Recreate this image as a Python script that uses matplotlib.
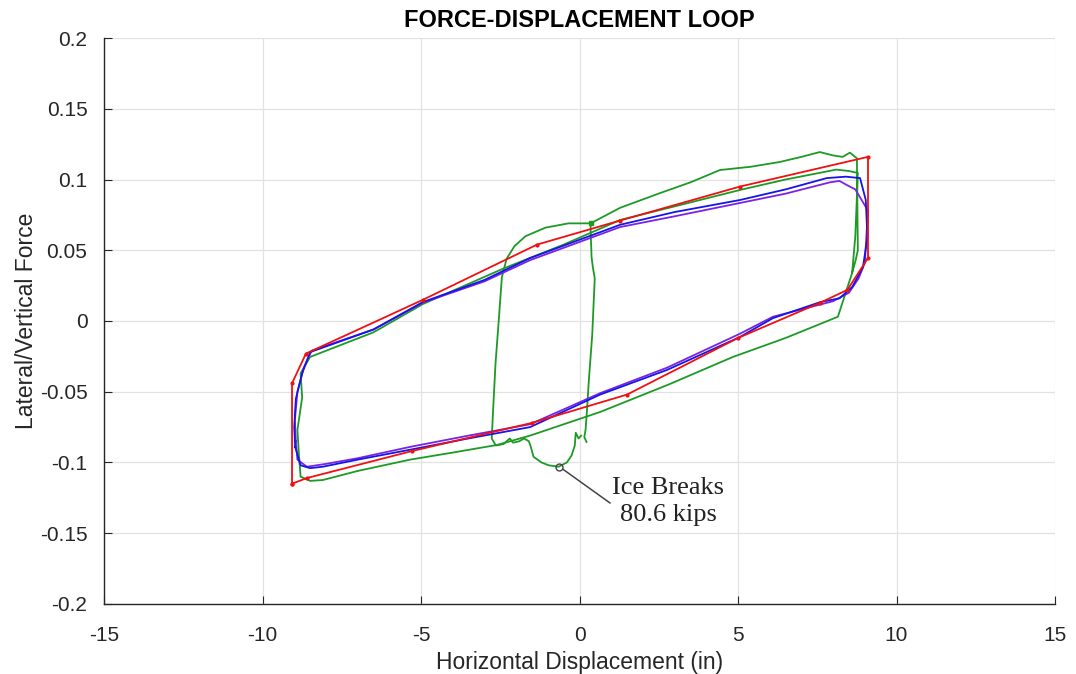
import numpy as np
import matplotlib.pyplot as plt

plt.rcParams['font.family'] = ['Liberation Sans', 'DejaVu Sans']
plt.rcParams['axes.unicode_minus'] = False

# red reference loop (piecewise, with vertex markers)
red_x = [-9.07, -9.07, -8.63, -4.94, -1.34, 1.28, 5.06, 9.1, 9.1, 8.45, 7.6, 5.0, 1.5, -1.5, -5.3, -8.6, -9.07]
red_y = [-0.115, -0.044, -0.023, 0.015, 0.054, 0.071, 0.095, 0.116, 0.0445, 0.022, 0.013, -0.012, -0.052, -0.072, -0.092, -0.111, -0.115]

# blue loop
blue_x = [-8.97, -8.99, -9.0, -8.95, -8.75, -8.5, -6.5, -4.94, -3.0, -1.56, 1.28, 3.0, 5.06, 6.5, 7.8, 8.4, 8.85, 9.03,
          9.08, 9.07, 8.94, 8.6, 8.2, 7.6, 6.1, 5.06, 2.76, 0.65, -1.56, -3.5, -5.35, -7.0, -8.1, -8.5, -8.8, -8.97]
blue_y = [-0.089, -0.080, -0.075, -0.055, -0.037, -0.022, -0.006, 0.0134, 0.029, 0.0445, 0.068, 0.077, 0.0855, 0.093, 0.101, 0.102, 0.101, 0.0855,
          0.06, 0.057, 0.038, 0.024, 0.016, 0.0134, 0.002, -0.0113, -0.0346, -0.052, -0.075, -0.083, -0.091, -0.098, -0.103, -0.104, -0.102, -0.089]

# purple loop
purple_x = [-8.95, -8.98, -8.9, -8.7, -8.45, -6.5, -4.94, -3.0, -1.56, 1.28, 3.0, 5.06, 6.5, 7.9, 8.2, 8.44, 8.7,
            9.1, 9.05, 9.0, 8.8, 8.5, 8.0, 6.1, 5.06, 2.76, 0.65, -1.56, -3.5, -5.35, -7.0, -8.0, -8.6, -8.9, -8.95]
purple_y = [-0.085, -0.07, -0.05, -0.033, -0.021, -0.006, 0.013, 0.028, 0.043, 0.0664, 0.074, 0.0834, 0.090, 0.098, 0.099, 0.096, 0.093,
            0.078, 0.06, 0.041, 0.03, 0.02, 0.014, 0.003, -0.009, -0.033, -0.051, -0.073, -0.081, -0.089, -0.097, -0.101, -0.103, -0.098, -0.085]

# green main loop (after ice breaks)
green_x = [0.35, 1.28, 2.54, 3.5, 4.43, 5.4, 6.32, 7.0, 7.58, 8.0, 8.3, 8.53, 8.75, 8.78, 8.7, 8.6, 8.15,
           6.5, 4.84, 2.8, 0.65, -1.56, -2.6, -4.0, -5.35, -7.0, -8.1, -8.5, -8.8, -8.85, -8.9, -8.75, -8.8, -8.5,
           -6.5, -4.94, -2.41, -0.5, 1.28, 3.0, 5.06, 6.5, 8.1, 8.5, 8.78, 8.7, 8.6]
green_y = [0.069, 0.080, 0.0904, 0.098, 0.1067, 0.109, 0.1124, 0.116, 0.1194, 0.117, 0.116, 0.119, 0.115, 0.05, 0.042, 0.034, 0.003,
           -0.012, -0.0254, -0.045, -0.0643, -0.081, -0.0876, -0.093, -0.098, -0.106, -0.1124, -0.113, -0.110, -0.095, -0.077, -0.054, -0.037, -0.0254,
           -0.008, 0.012, 0.037, 0.054, 0.0714, 0.081, 0.0926, 0.100, 0.107, 0.106, 0.1046, 0.06, 0.034]

# green ice-breaking loop
ice_x = [0.22, 0.15, 0.19, 0.22, 0.3, 0.4, 0.44, 0.48, 0.42, 0.38, 0.35, 0.35, -0.35, -1.07, -1.7, -2.05, -2.3, -2.45, -2.55, -2.65, -2.72, -2.77,
         -2.64, -2.4, -2.2, -2.1, -1.9, -1.75, -1.6, -1.55, -1.45, -1.2, -0.97, -0.66, -0.4, -0.25, -0.15, -0.12, -0.03, 0.05]
ice_y = [-0.0855, -0.082, -0.077, -0.068, -0.04, -0.01, 0.01, 0.03, 0.038, 0.045, 0.064, 0.069, 0.069, 0.066, 0.060, 0.053, 0.044, 0.031, 0.0, -0.03, -0.06, -0.083,
         -0.088, -0.087, -0.083, -0.086, -0.085, -0.083, -0.085, -0.088, -0.096, -0.100, -0.102, -0.103, -0.1, -0.095, -0.088, -0.079, -0.083, -0.081]

break_pt = (-0.66, -0.103)
note_text = "Ice Breaks\n80.6 kips"

fig = plt.figure(figsize=(10.76, 6.74), dpi=100)
ax = fig.add_axes([0.0967, 0.1039, 0.8838, 0.8397])

c_red = '#f01010'
c_blue = '#1515e8'
c_purple = '#7a22e6'
c_green = '#1d9a26'

ax.plot(green_x, green_y, color=c_green, lw=1.3, zorder=2)
ax.plot(ice_x, ice_y, color=c_green, lw=1.3, zorder=2)
ax.plot([0.35], [0.069], 's', color=c_green, ms=3.5, zorder=3)
ax.plot(purple_x, purple_y, color=c_purple, lw=1.3, zorder=3)
ax.plot(blue_x, blue_y, color=c_blue, lw=1.3, zorder=4)
ax.plot(red_x, red_y, color=c_red, lw=1.3, marker='o', ms=2, zorder=5)

ax.plot([break_pt[0]], [break_pt[1]], 'o', mfc='none', mec='#444444', ms=5, mew=1, zorder=6)
ax.plot([break_pt[0] + 0.15, 0.96], [break_pt[1] - 0.002, -0.1286], color='#444444', lw=1.1, zorder=6)
ax.text(2.8, -0.1275, note_text, ha='center', va='center', fontsize=19,
        family=['Liberation Serif', 'DejaVu Serif'], color='#222222', linespacing=1.3)

ax.set_xlim(-15, 15)
ax.set_ylim(-0.2, 0.2)
ax.set_xticks(np.arange(-15, 16, 5))
ax.set_yticks(np.arange(-0.2, 0.201, 0.05))
ax.set_yticklabels(['-0.2', '-0.15', '-0.1', '-0.05', '0', '0.05', '0.1', '0.15', '0.2'])
ax.grid(True, color='#e2e2e2', lw=0.9)
ax.set_axisbelow(True)
for s in ['top', 'right']:
    ax.spines[s].set_visible(False)
for s in ['left', 'bottom']:
    ax.spines[s].set_color('#262626')
    ax.spines[s].set_linewidth(1.0)
ax.tick_params(direction='in', length=6, labelsize=15, colors='#262626')
ax.tick_params(axis='y', pad=12)
ax.tick_params(axis='x', pad=16)

ax.set_title("FORCE-DISPLACEMENT LOOP", fontsize=17, fontweight='bold', pad=8)
ax.set_xlabel("Horizontal Displacement (in)", fontsize=16.5, color='#262626', labelpad=4)
ax.set_ylabel("Lateral/Vertical Force", fontsize=16.5, color='#262626', labelpad=1)

fig.savefig('out.png', dpi=100, facecolor='white')
